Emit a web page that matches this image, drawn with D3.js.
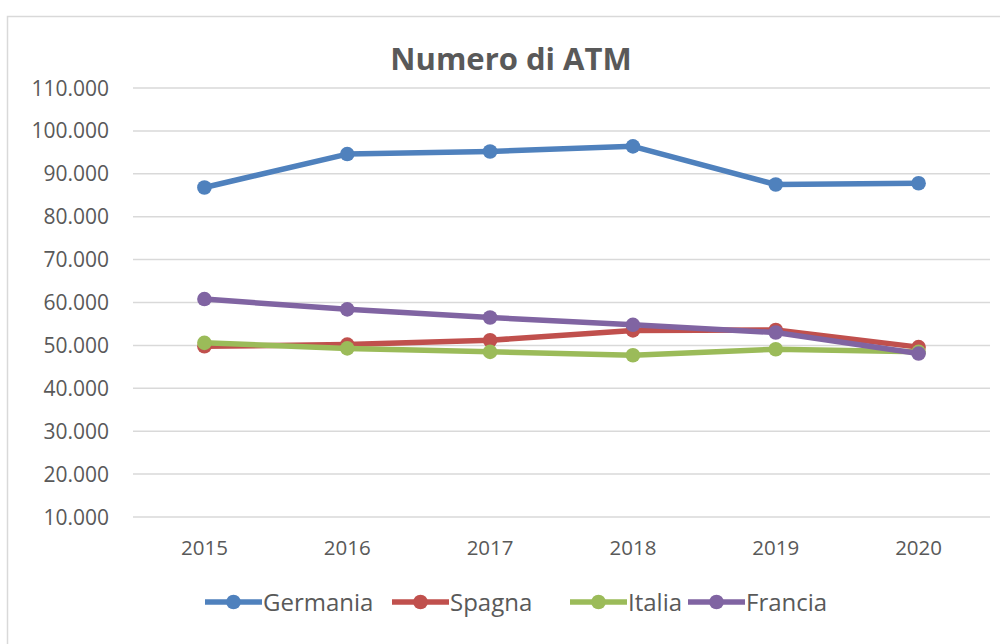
<!DOCTYPE html>
<html><head><meta charset="utf-8">
<script src="https://cdn.jsdelivr.net/npm/d3@7"></script>
<style>body{margin:0;background:#fff;} svg{display:block;font-family:"Open Sans",sans-serif;}</style>
</head><body>
<svg id="c" width="1000" height="644"></svg>
<script>
const years = ["2015","2016","2017","2018","2019","2020"];
const germania = [86800, 94600, 95200, 96400, 87500, 87800];
const spagna   = [49800, 50200, 51200, 53500, 53600, 49600];
const italia   = [50600, 49300, 48500, 47700, 49100, 48500];
const francia  = [60800, 58400, 56500, 54800, 53000, 48100];
const seriesNames = ["Germania","Spagna","Italia","Francia"];
const seriesColors = ["#4F81BD","#C0504D","#9BBB59","#8064A2"];
const yTicks = [10000,20000,30000,40000,50000,60000,70000,80000,90000,100000,110000];
const title = "Numero di ATM";

const series = [germania, spagna, italia, francia];
const svg = d3.select("#c");
// chart border
svg.append("rect").attr("x",7.5).attr("y",16.5).attr("width",1010).attr("height",650)
  .attr("fill","#fff").attr("stroke","#d9d9d9").attr("stroke-width",1.5);

const x = d3.scaleBand().domain(years).range([133, 990]);
const y = d3.scaleLinear().domain([10000, 110000]).range([517, 88]);

// gridlines
svg.append("g").selectAll("line").data(yTicks).join("line")
  .attr("x1",133).attr("x2",990).attr("y1",d=>y(d)).attr("y2",d=>y(d))
  .attr("stroke","#d9d9d9").attr("stroke-width",1.5);

// y labels
svg.append("g").selectAll("text").data(yTicks).join("text")
  .attr("x",109).attr("y",d=>y(d)).attr("dy","0.36em").attr("text-anchor","end")
  .attr("fill","#595959").attr("font-size",21)
  .text(d=>d3.format(",.0f")(d).replace(/,/g,"."));

// x labels
svg.append("g").selectAll("text").data(years).join("text")
  .attr("x",d=>x(d)+x.bandwidth()/2).attr("y",548).attr("dy","0.36em")
  .attr("text-anchor","middle").attr("fill","#595959").attr("font-size",20.5).text(d=>d);

// title
svg.append("text").attr("x",511).attr("y",69.5).attr("text-anchor","middle")
  .attr("font-weight","bold").attr("font-size",31).attr("fill","#595959").text(title);

const line = d3.line().x((d,i)=>x(years[i])+x.bandwidth()/2).y(d=>y(d));
series.forEach((s,k)=>{
  const g = svg.append("g");
  g.append("path").datum(s).attr("d",line).attr("fill","none")
    .attr("stroke",seriesColors[k]).attr("stroke-width",5.5).attr("stroke-linejoin","round");
  g.selectAll("circle").data(s).join("circle")
    .attr("cx",(d,i)=>x(years[i])+x.bandwidth()/2).attr("cy",d=>y(d)).attr("r",7.3)
    .attr("fill",seriesColors[k]);
});

// legend
const legX = [205, 392, 570, 688];
seriesNames.forEach((n,k)=>{
  const g = svg.append("g").attr("transform",`translate(${legX[k]},602)`);
  g.append("line").attr("x1",0).attr("x2",57).attr("y1",0).attr("y2",0)
    .attr("stroke",seriesColors[k]).attr("stroke-width",5.5);
  g.append("circle").attr("cx",28.5).attr("cy",0).attr("r",7.3).attr("fill",seriesColors[k]);
  g.append("text").attr("x",58).attr("y",0).attr("dy","0.36em").attr("font-size",24)
    .attr("fill","#595959").text(n);
});
</script>
</body></html>
